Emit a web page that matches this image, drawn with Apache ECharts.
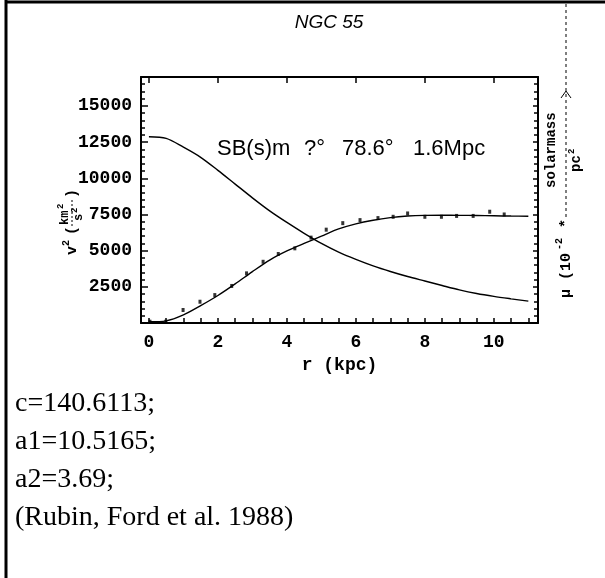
<!DOCTYPE html>
<html><head><meta charset="utf-8">
<script src="https://cdn.jsdelivr.net/npm/echarts@6/dist/echarts.min.js"></script>
<style>html,body{margin:0;padding:0;background:#fff}#c{width:605px;height:578px}</style>
</head><body><div id="c"></div>
<script>
// ---- data ----
const xLabelValues = [0, 2, 4, 6, 8, 10];
const xTickValues = [0, 0.5, 1, 1.5, 2, 2.5, 3, 3.5, 4, 4.5, 5, 5.5, 6, 6.5, 7, 7.5, 8, 8.5, 9, 9.5, 10, 10.5, 11];
const yLabelValues = [2500, 5000, 7500, 10000, 12500, 15000];

// surface density curve (scaled)
const densityR = [0, 0.5, 1, 1.5, 2, 2.5, 3, 3.5, 4, 4.5, 5, 5.5, 6, 6.5, 7, 7.5, 8, 8.5, 9, 9.5, 10, 10.5, 11];
const densityV = [12870, 12760, 12150, 11450, 10550, 9600, 8650, 7750, 6950, 6200, 5500, 4900, 4400, 3950, 3560, 3210, 2900, 2590, 2290, 2040, 1840, 1670, 1510];

// model v^2 curve
const modelR = [0, 0.5, 1, 1.5, 2, 2.5, 3, 3.5, 4, 4.5, 5, 5.5, 6, 6.5, 7, 7.5, 8, 8.5, 9, 9.5, 10, 10.5, 11];
const modelV = [90, 150, 560, 1200, 1900, 2700, 3550, 4350, 4980, 5500, 6000, 6500, 6850, 7100, 7280, 7390, 7440, 7450, 7440, 7430, 7410, 7390, 7380];

// observed v^2 points
const obsR = [0.03, 0.49, 0.99, 1.48, 1.91, 2.4, 2.83, 3.31, 3.75, 4.23, 4.7, 5.14, 5.62, 6.12, 6.64, 7.08, 7.5, 8.0, 8.48, 8.92, 9.4, 9.88, 10.3];
const obsV = [90, 90, 900, 1470, 1930, 2560, 3430, 4230, 4770, 5160, 5900, 6450, 6900, 7110, 7250, 7340, 7570, 7340, 7340, 7400, 7400, 7690, 7500];

const mono = '"Liberation Mono", "DejaVu Sans Mono", monospace';
const sans = '"Liberation Sans", Arial, sans-serif';
const serif = '"Liberation Serif", "Times New Roman", serif';

const chart = echarts.init(document.getElementById('c'), null, {renderer: 'canvas'});

function pairs(a, b) { return a.map((v, i) => [v, b[i]]); }

const axisLineStyle = {color: '#000', width: 2};
const tickStyle = {color: '#000', width: 1.5};
const X_MIN = -0.23, X_MAX = 11.28, Y_MIN = 0, Y_MAX = 17000;
const labelFont = {fontFamily: mono, fontSize: 18, fontWeight: 'bold', color: '#000'};

const option = {
  animation: false,
  backgroundColor: '#fff',
  title: {
    text: 'NGC 55', left: 324, top: 8, textAlign: 'center',
    textStyle: {fontFamily: sans, fontStyle: 'italic', fontWeight: 'normal', fontSize: 19, color: '#000'}
  },
  grid: {left: 141, top: 77, right: 67, bottom: 255, containLabel: false},
  xAxis: [
    {
      type: 'value', position: 'bottom', min: X_MIN, max: X_MAX,
      name: 'r (kpc)', nameLocation: 'middle', nameGap: 33,
      nameTextStyle: labelFont,
      axisLine: {show: true, onZero: false, lineStyle: axisLineStyle},
      axisTick: {show: true, inside: true, length: 5, customValues: xTickValues, lineStyle: tickStyle},
      axisLabel: Object.assign({show: true, customValues: xLabelValues, margin: 10}, labelFont),
      splitLine: {show: false}
    },
    {
      type: 'value', position: 'top', min: X_MIN, max: X_MAX,
      axisLine: {show: true, onZero: false, lineStyle: axisLineStyle},
      axisTick: {show: true, inside: true, length: 6, customValues: xLabelValues, lineStyle: tickStyle},
      axisLabel: {show: false},
      splitLine: {show: false}
    }
  ],
  yAxis: [
    {
      type: 'value', position: 'left', min: Y_MIN, max: Y_MAX, interval: 2500,
      axisLine: {show: true, onZero: false, lineStyle: axisLineStyle},
      axisTick: {show: true, inside: true, length: 7, lineStyle: tickStyle},
      minorTick: {show: true, splitNumber: 5, length: 4, lineStyle: tickStyle},
      axisLabel: Object.assign({show: true, customValues: yLabelValues, margin: 9,
        formatter: v => String(v)}, labelFont),
      splitLine: {show: false}, minorSplitLine: {show: false}
    },
    {
      type: 'value', position: 'right', min: Y_MIN, max: Y_MAX, interval: 2500,
      axisLine: {show: true, onZero: false, lineStyle: axisLineStyle},
      axisTick: {show: true, inside: true, length: 5, lineStyle: tickStyle},
      minorTick: {show: true, splitNumber: 5, length: 4, lineStyle: tickStyle},
      axisLabel: {show: false},
      splitLine: {show: false}, minorSplitLine: {show: false}
    }
  ],
  series: [
    {
      type: 'line', name: 'density', xAxisIndex: 0, yAxisIndex: 0,
      data: pairs(densityR, densityV), smooth: 0.3, showSymbol: false,
      lineStyle: {color: '#000', width: 1.4}
    },
    {
      type: 'line', name: 'model', xAxisIndex: 0, yAxisIndex: 0,
      data: pairs(modelR, modelV), smooth: 0.3, showSymbol: false,
      lineStyle: {color: '#000', width: 1.4}
    },
    {
      type: 'scatter', name: 'observed', xAxisIndex: 0, yAxisIndex: 0,
      data: pairs(obsR, obsV), symbol: 'rect', symbolSize: [3, 4],
      itemStyle: {color: '#000'}
    }
  ],
  graphic: [
    // outer border lines
    {type: 'line', shape: {x1: 6, y1: 0, x2: 6, y2: 578}, style: {stroke: '#000', lineWidth: 3}},
    {type: 'line', shape: {x1: 5, y1: 2, x2: 605, y2: 2}, style: {stroke: '#000', lineWidth: 3}},
    // annotation inside plot
    {type: 'text', x: 217, y: 149, style: {text: 'SB(s)m', font: '22px ' + sans, fill: '#000', textVerticalAlign: 'middle'}},
    {type: 'text', x: 304, y: 149, style: {text: '?°', font: '22px ' + sans, fill: '#000', textVerticalAlign: 'middle'}},
    {type: 'text', x: 342, y: 149, style: {text: '78.6°', font: '22px ' + sans, fill: '#000', textVerticalAlign: 'middle'}},
    {type: 'text', x: 413, y: 149, style: {text: '1.6Mpc', font: '22px ' + sans, fill: '#000', textVerticalAlign: 'middle'}},
    // left axis name (rotated)
    {
      type: 'group', x: 72, y: 255, rotation: Math.PI / 2,
      children: [
        {type: 'text', x: 0, y: 0, style: {text: 'v', font: 'bold 15px ' + mono, fill: '#000', textVerticalAlign: 'middle'}},
        {type: 'text', x: 9, y: -6, style: {text: '2', font: 'bold 10px ' + mono, fill: '#000', textVerticalAlign: 'middle'}},
        {type: 'text', x: 20, y: 0, style: {text: '(', font: 'bold 15px ' + mono, fill: '#000', textVerticalAlign: 'middle'}},
        {type: 'text', x: 30, y: -7, style: {text: 'km', font: 'bold 12px ' + mono, fill: '#000', textVerticalAlign: 'middle'}},
        {type: 'text', x: 46, y: -11, style: {text: '2', font: 'bold 9px ' + mono, fill: '#000', textVerticalAlign: 'middle'}},
        {type: 'line', shape: {x1: 29, y1: 0, x2: 55, y2: 0}, style: {stroke: '#000', lineWidth: 1, lineDash: [2, 2]}},
        {type: 'text', x: 34, y: 7, style: {text: 's', font: 'bold 12px ' + mono, fill: '#000', textVerticalAlign: 'middle'}},
        {type: 'text', x: 42, y: 3, style: {text: '2', font: 'bold 9px ' + mono, fill: '#000', textVerticalAlign: 'middle'}},
        {type: 'text', x: 57, y: 0, style: {text: ')', font: 'bold 15px ' + mono, fill: '#000', textVerticalAlign: 'middle'}}
      ]
    },
    // right axis name (rotated)
    {
      type: 'group', x: 566, y: 300, rotation: Math.PI / 2,
      children: [
        {type: 'text', x: 2, y: 0, style: {text: 'μ (10', font: 'bold 15px ' + mono, fill: '#000', textVerticalAlign: 'middle'}},
        {type: 'text', x: 50, y: -7, style: {text: '-2', font: 'bold 10px ' + mono, fill: '#000', textVerticalAlign: 'middle'}},
        {type: 'text', x: 72, y: 0, style: {text: '*', font: 'bold 15px ' + mono, fill: '#000', textVerticalAlign: 'middle'}},
        {type: 'text', x: 112, y: -15, style: {text: 'solarmass', font: 'bold 14px ' + mono, fill: '#000', textVerticalAlign: 'middle'}},
        {type: 'text', x: 128, y: 10, style: {text: 'pc', font: 'bold 14px ' + mono, fill: '#000', textVerticalAlign: 'middle'}},
        {type: 'text', x: 146, y: 6, style: {text: '2', font: 'bold 9px ' + mono, fill: '#000', textVerticalAlign: 'middle'}}
      ]
    },
    {type: 'line', shape: {x1: 566, y1: 4, x2: 566, y2: 218}, style: {stroke: '#000', lineWidth: 1, lineDash: [3, 3]}},
    {type: 'polyline', shape: {points: [[561, 98], [566, 91], [571, 98]]}, style: {stroke: '#000', lineWidth: 1, fill: null}},
    // bottom notes
    {type: 'text', x: 15, y: 404, style: {text: 'c=140.6113;', font: '28px ' + serif, fill: '#000', textVerticalAlign: 'middle'}},
    {type: 'text', x: 15, y: 442, style: {text: 'a1=10.5165;', font: '28px ' + serif, fill: '#000', textVerticalAlign: 'middle'}},
    {type: 'text', x: 15, y: 480, style: {text: 'a2=3.69;', font: '28px ' + serif, fill: '#000', textVerticalAlign: 'middle'}},
    {type: 'text', x: 15, y: 518, style: {text: '(Rubin, Ford et al. 1988)', font: '28px ' + serif, fill: '#000', textVerticalAlign: 'middle'}}
  ]
};
chart.setOption(option);
</script>
</body></html>
